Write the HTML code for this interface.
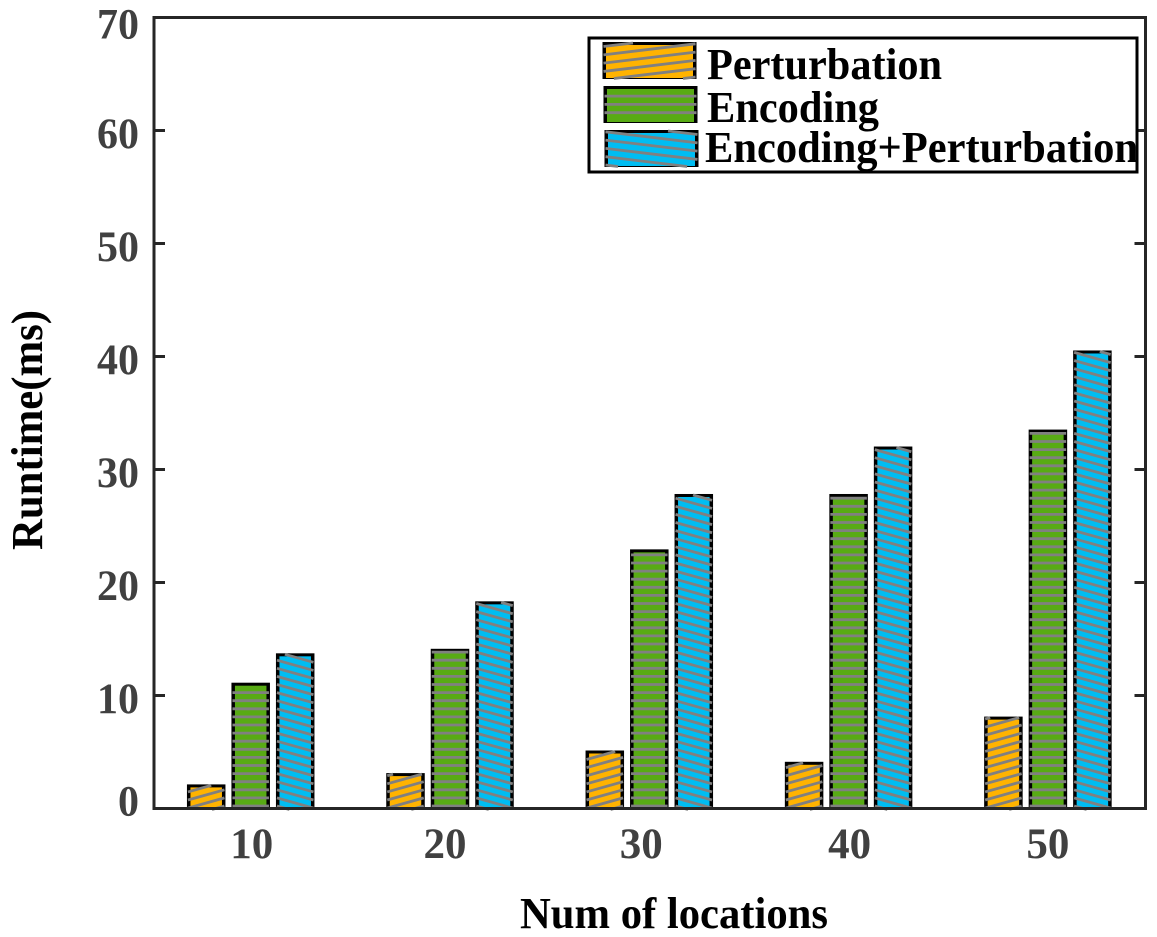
<!DOCTYPE html>
<html lang="en">
<head>
<meta charset="utf-8">
<title>Runtime chart</title>
<style>
html,body{margin:0;padding:0;background:#fff;}
svg{display:block;}
text{font-family:"Liberation Serif",serif;font-weight:bold;}
</style>
</head>
<body>
<svg id="chart" xmlns="http://www.w3.org/2000/svg" width="1157" height="937" viewBox="0 0 1157 937"></svg>
<script>
const categories = ["10", "20", "30", "40", "50"];
const perturbationValues = [2, 3, 5, 4, 8];
const encodingValues = [11, 14, 22.8, 27.7, 33.4];
const combinedValues = [13.6, 18.2, 27.7, 31.9, 40.4];
const yTicks = [0, 10, 20, 30, 40, 50, 60, 70];
const seriesNames = ["Perturbation", "Encoding", "Encoding+Perturbation"];

const NS = "http://www.w3.org/2000/svg";
const svg = document.getElementById("chart");
const AX = {left: 154, right: 1145.5, top: 17.5, bottom: 808.5};
const GRAY = "#808080", AXIS = "#262626", LABEL = "#404040";
const COLORS = ["#ffb300", "#58ab14", "#00bdf2"];
const BAR_SLOPES = [-0.28, 0, 0.28];
const LEGEND_SLOPES = [-0.12, 0, 0.12];
const BAR_W = 38.5, BAR_GAP = 44.5, GROUP_STEP = 199.3, FIRST_CENTER = 250.7;
const xLabelNudge = [1, -5, -8, 1, 0];

function yScale(v) { return AX.bottom - (v / 70) * (AX.bottom - AX.top); }
function xScale(i) { return FIRST_CENTER + i * GROUP_STEP; }

function make(tag, attrs, parent) {
  const el = document.createElementNS(NS, tag);
  for (const k in attrs) el.setAttribute(k, attrs[k]);
  (parent || svg).appendChild(el);
  return el;
}

function label(str, x, y, size, width, anchor, fill, parent) {
  const t = make("text", {x: x, y: y, "font-size": size, "text-anchor": anchor, fill: fill,
    textLength: width, lengthAdjust: "spacingAndGlyphs"}, parent);
  t.textContent = str;
  return t;
}

/* A hatched box: black border, colour fill, gray hatch lines stepping up from an anchor line */
function hatchedBox(g, x, yTop, w, yBottom, seriesIndex, slope, anchor, step) {
  const border = make("rect", {x: x, y: yTop, width: w, height: yBottom - yTop, fill: "#000"}, g);
  
  
  const fill = make("rect", {x: x + 3.5, y: yTop + 3, width: w - 7, height: Math.max(0, yBottom - yTop - 4), fill: COLORS[seriesIndex]}, g);
  
  
  const x0 = x + 1, x1 = x + w - 1;
  const drop = slope * (x1 - x0);
  const top = slope === 0 ? yTop + 3 : yTop + 1, bot = yBottom - 0.5;
  const start = slope === 0 ? anchor : anchor + Math.abs(drop) + step;
  const stop = top - Math.abs(drop) - step;
  for (let base = start; base > stop; base -= step) {
    const y0 = slope >= 0 ? base - drop : base;
    let ya = y0, yb = y0 + drop, xa = x0, xb = x1;
    if (slope !== 0) {
      if (ya < top) { xa = x0 + (top - y0) / slope; ya = top; }
      if (yb < top) { xb = x0 + (top - y0) / slope; yb = top; }
      if (ya > bot) { xa = x0 + (bot - y0) / slope; ya = bot; }
      if (yb > bot) { xb = x0 + (bot - y0) / slope; yb = bot; }
    }
    if (ya < top || yb < top || ya > bot || yb > bot || xb <= xa) continue;
    const hatch = make("line", {x1: xa, y1: ya, x2: xb, y2: yb, stroke: GRAY, "stroke-width": 2.8}, g);
    
    
  }
}

/* Bars */
const allSeries = [perturbationValues, encodingValues, combinedValues];
allSeries.forEach(function (values, s) {
  const group = make("g", {});
  
  
  values.forEach(function (v, i) {
    const g = make("g", {}, group);
    
    
    const left = xScale(i) + (s - 1) * BAR_GAP - BAR_W / 2;
    hatchedBox(g, left, yScale(v) - 1.5, BAR_W, AX.bottom + 1.5, s, BAR_SLOPES[s], AX.bottom - 2.5, 8.1);
  });
});

/* Axes frame */
const frame = make("rect", {x: AX.left, y: AX.top, width: AX.right - AX.left, height: AX.bottom - AX.top, fill: "none", stroke: AXIS, "stroke-width": 3});



/* Y ticks and labels */
yTicks.forEach(function (v) {
  const y = yScale(v);
  if (v !== 0 && v !== 70) {
    const tl = make("line", {x1: AX.left, x2: AX.left + 11, y1: y, y2: y, stroke: AXIS, "stroke-width": 3});
    
    
    const tr = make("line", {x1: AX.right - 11, x2: AX.right, y1: y, y2: y, stroke: AXIS, "stroke-width": 3});
    
    
  }
  const str = String(v);
  const center = Math.min(801, Math.max(24, y + 3));
  const t = label(str, 139, center + 14.5, 43, 21 * str.length, "end", LABEL);
  
  
});

/* X labels */
categories.forEach(function (c, i) {
  const t = label(c, xScale(i) + xLabelNudge[i], 858, 43, 21.5 * c.length, "middle", LABEL);
  
  
});

/* Axis titles */
const xTitle = label("Num of locations", 674, 928, 44, 308, "middle", "#000");



const yTitle = label("Runtime(ms)", 0, 0, 44, 240, "middle", "#000");
yTitle.setAttribute("transform", "translate(42 430) rotate(-90)");



/* Legend */
const legend = make("g", {});


const legendBox = make("rect", {x: 589, y: 38, width: 548, height: 134, fill: "#fff", stroke: "#000", "stroke-width": 3}, legend);



const legendSwatchX = [602.5, 603.5, 604.5];
const legendSwatchTop = [42, 86, 130];
const legendTextX = [707, 707, 705];
const legendTextY = [79, 122, 162];
const legendTextW = [235, 172, 433];
seriesNames.forEach(function (name, s) {
  const entry = make("g", {}, legend);
  
  
  const bottom = legendSwatchTop[s] + 37;
  hatchedBox(entry, legendSwatchX[s], legendSwatchTop[s], 94, bottom, s, LEGEND_SLOPES[s], bottom - 10.3, 8.3);
  const t = label(name, legendTextX[s], legendTextY[s], 44, legendTextW[s], "start", "#000", entry);
  
  
});
</script>
</body>
</html>
